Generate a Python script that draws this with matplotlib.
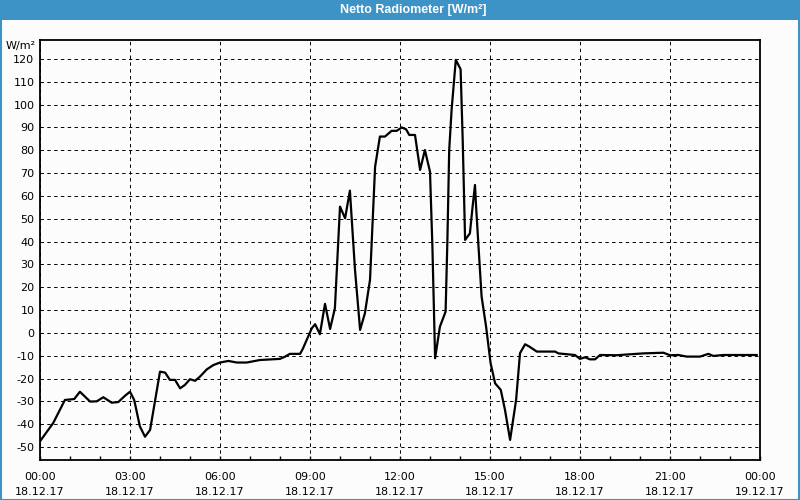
import matplotlib
matplotlib.use("Agg")
import matplotlib.pyplot as plt
from matplotlib.patches import Rectangle

# ---- data (hours since 18.12.17 00:00, W/m²) ----
hours = [0.0, 0.44, 0.83, 1.14, 1.33, 1.67, 1.89, 2.11, 2.39, 2.61, 2.83, 3.0,
         3.14, 3.33, 3.5, 3.67, 4.0, 4.17, 4.33, 4.5, 4.67, 4.83, 5.0, 5.17,
         5.33, 5.56, 5.78, 6.0, 6.28, 6.56, 6.89, 7.33, 8.0, 8.17, 8.33, 8.67,
         8.76, 9.06, 9.17, 9.33, 9.5, 9.67, 9.83, 10.0, 10.17, 10.33, 10.5,
         10.67, 10.83, 11.0, 11.17, 11.33, 11.5, 11.72, 11.89, 12.06, 12.2,
         12.31, 12.5, 12.67, 12.83, 13.0, 13.08, 13.17, 13.33, 13.52, 13.58,
         13.64, 13.72, 13.86, 14.02, 14.09, 14.17, 14.33, 14.42, 14.5, 14.53,
         14.61, 14.72, 14.87, 15.02, 15.17, 15.36, 15.5, 15.67, 15.87, 16.0,
         16.17, 16.31, 16.56, 17.17, 17.28, 17.83, 18.0, 18.17, 18.33, 18.5,
         18.67, 19.22, 20.1, 20.78, 21.0, 21.28, 21.56, 22.0, 22.28, 22.44,
         22.78, 23.89]
values = [-47.5, -39.5, -29.4, -29.0, -25.8, -30.1, -30.0, -28.2, -30.6, -30.3,
          -27.6, -25.8, -29.4, -41.0, -45.5, -42.5, -17.0, -17.4, -20.6, -20.6,
          -24.3, -22.8, -20.3, -21.0, -19.2, -16.0, -14.1, -13.0, -12.3, -13.0,
          -13.0, -11.9, -11.4, -10.4, -9.2, -9.2, -7.0, 2.0, 3.8, -0.6, 12.7,
          1.7, 10.8, 55.3, 50.2, 62.3, 27.6, 1.3, 8.6, 23.2, 72.8, 86.0, 86.0,
          88.5, 88.5, 90.0, 89.2, 86.7, 86.7, 71.4, 80.1, 70.6, 37.8, -11.1,
          2.7, 9.3, 40.7, 80.1, 97.7, 119.6, 115.5, 84.5, 40.7, 43.6, 55.3,
          64.8, 56.8, 39.3, 15.9, 2.7, -13.3, -22.1, -25.0, -33.8, -46.9, -29.4,
          -8.9, -5.0, -6.0, -8.2, -8.2, -9.0, -9.7, -11.4, -10.7, -11.6, -11.6,
          -9.7, -9.8, -9.0, -8.7, -9.8, -9.7, -10.4, -10.4, -9.2, -10.1, -9.7,
          -9.7]

x_tick_hours = [0, 3, 6, 9, 12, 15, 18, 21, 24]
x_tick_labels = ["00:00\n18.12.17", "03:00\n18.12.17", "06:00\n18.12.17",
                 "09:00\n18.12.17", "12:00\n18.12.17", "15:00\n18.12.17",
                 "18:00\n18.12.17", "21:00\n18.12.17", "00:00\n19.12.17"]
y_ticks = list(range(-50, 121, 10))

title = "Netto Radiometer [W/m²]"
unit = "W/m²"

# ---- styling ----
bg = "#fbfcfb"
bar = "#3d93c5"
plt.rcParams["font.family"] = ["DejaVu Sans"]

fig = plt.figure(figsize=(8, 5), dpi=100, facecolor=bg)

# title bar and frame
fig.patches.append(Rectangle((0, 1 - 20 / 500), 1, 20 / 500, transform=fig.transFigure,
                             facecolor=bar, edgecolor="none", zorder=0))
fig.patches.append(Rectangle((0.5 / 800, 0.5 / 500), 1 - 1.5 / 800, 1 - 1 / 500,
                             transform=fig.transFigure, facecolor="none",
                             edgecolor=bar, linewidth=1.5, zorder=0))
fig.text(413 / 800, 1 - 10 / 500, title, color="white", fontsize=9, fontweight="bold",
         ha="center", va="center", family=["Liberation Sans", "DejaVu Sans"])

ax = fig.add_axes([40 / 800, 40 / 500, 720 / 800, 420 / 500])
ax.set_facecolor(bg)
ax.plot(hours, values, color="black", linewidth=1.6, zorder=3)

ax.set_xlim(0, 24)
ax.set_ylim(-55.7, 128.3)
ax.set_xticks(x_tick_hours)
ax.set_xticklabels(x_tick_labels, fontsize=8, linespacing=1.6)
ax.set_xticks(range(0, 25), minor=True)
ax.set_yticks(y_ticks)
ax.set_yticklabels([str(v) for v in y_ticks], fontsize=8)
ax.tick_params(axis="x", which="both", direction="in", length=3, width=1, pad=9)
ax.tick_params(axis="y", length=0, pad=4)
ax.tick_params(axis="x", top=False)

ax.grid(True, which="major", color="black", linestyle=(0, (3.5, 3.5)), linewidth=0.7)
for s in ax.spines.values():
    s.set_linewidth(1.3)
    s.set_color("black")

fig.text(36 / 800, 1 - 46 / 500, unit, fontsize=8, ha="right", va="center")

fig.savefig("out.png", dpi=100, facecolor=bg)
